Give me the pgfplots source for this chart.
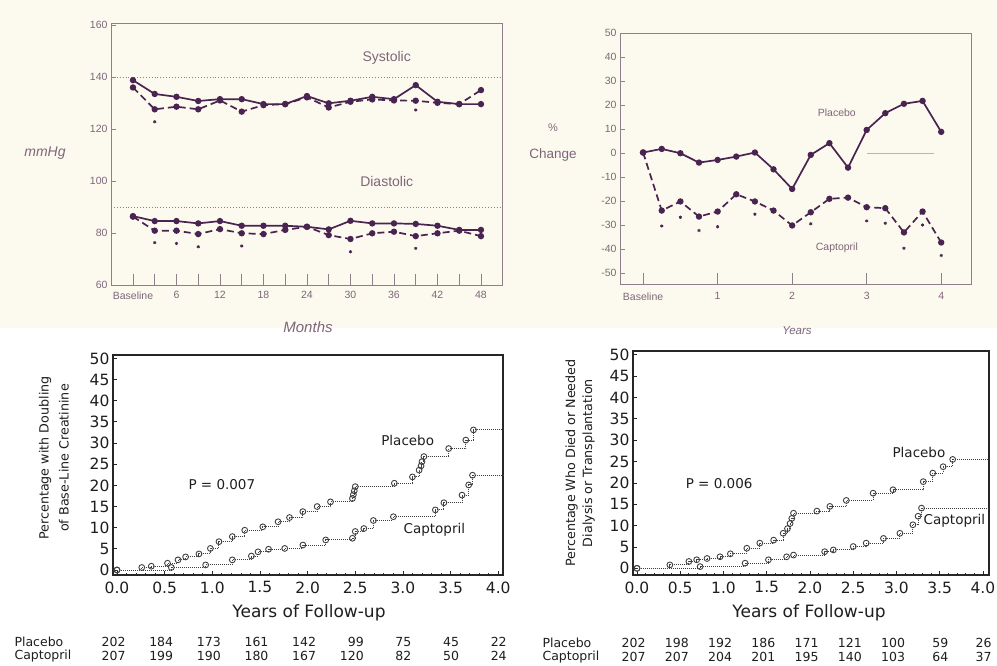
\documentclass[border=0pt]{standalone}
\usepackage{pgfplots}
\pgfplotsset{compat=1.18}
\usepackage{fontspec}
\setmainfont{DejaVu Sans}
\newfontfamily\topfont{Liberation Sans}
\definecolor{topline}{HTML}{4A2450}
\definecolor{toptext}{HTML}{7E6679}
\definecolor{topframe}{HTML}{8E7F8C}
\definecolor{cream}{HTML}{FCFAEF}
\definecolor{botline}{HTML}{404040}
\definecolor{bottext}{HTML}{1E1E1E}
\pgfplotsset{
  topax/.style={scale only axis, anchor=south west, clip=false,
    axis line style={draw=topframe, line width=0.9pt},
    tick style={draw=topframe, line width=0.8pt},
    xtick pos=left, ytick pos=left,
    xtick style={/pgfplots/major tick length=11pt},
    ytick style={/pgfplots/major tick length=5pt},
    tick label style={font=\topfont\fontsize{10.5}{12}\selectfont, text=toptext},
    /pgf/number format/assume math mode=true,
    /pgf/number format/1000 sep={}},
  topsolid/.style={topline, line width=1.7pt, mark=*, mark size=2.3pt, mark options={solid}},
  topdash/.style={topline, line width=1.7pt, dash pattern=on 7pt off 4pt, mark=*, mark size=2.3pt, mark options={solid}},
  topstar/.style={only marks, topline, mark=asterisk, mark size=1.6pt, line width=0.8pt},
  botax/.style={scale only axis, anchor=south west, clip=false,
    axis line style={draw=black!85, line width=1.1pt},
    tick style={draw=black!85, line width=0.8pt},
    xtick pos=left, ytick pos=left,
    major tick length=4pt, minor tick length=2pt,
    minor x tick num=4,
    tick label style={font=\fontsize{15.5}{18}\selectfont, text=bottext},
    xticklabel style={yshift=-3pt},
    xtick={0,0.5,...,4}, xticklabels={0.0,0.5,1.0,1.5,2.0,2.5,3.0,3.5,4.0},
    ytick={0,5,...,50},
    /pgf/number format/assume math mode=true},
  kmline/.style={botline, line width=1pt, densely dotted, const plot, mark=o, mark size=2.9pt, mark options={solid, line width=0.9pt}},
  kmtail/.style={botline, line width=1pt, densely dotted},
}
\begin{document}
\begin{tikzpicture}
\fill[white] (0pt,0pt) rectangle (997pt,-665pt);
\fill[cream] (0pt,0pt) rectangle (997pt,-328pt);

% ---------------- Top left: blood pressure ----------------
\begin{axis}[topax, at={(111pt,-285pt)}, width=391pt, height=262pt,
  xmin=-3.03, xmax=50.9, ymin=60, ymax=160.8,
  xtick={0,3,...,48}, xticklabels={Baseline,,6,,12,,18,,24,,30,,36,,42,,48},
  xticklabel style={yshift=-3pt},
  ytick={60,80,...,160}]
\addplot[topframe, line width=0.9pt, dotted] coordinates {(-3.03,140) (50.9,140)};
\addplot[topframe, line width=0.9pt, dotted] coordinates {(-3.03,90) (50.9,90)};
\addplot[topsolid] coordinates {(0,138.8)(3,133.5)(6,132.4)(9,130.8)(12,131.5)(15,131.5)(18,129.6)(21,129.6)(24,132.7)(27,129.9)(30,130.9)(33,132.4)(36,131.5)(39,136.9)(42,130.5)(45,129.6)(48,129.6)};
\addplot[topdash] coordinates {(0,136)(3,127.6)(6,128.6)(9,127.6)(12,131)(15,126.7)(18,129.2)(21,129.6)(24,132.2)(27,128.3)(30,130.5)(33,131.4)(36,131)(39,130.9)(42,130.1)(45,129.6)(48,135)};
\addplot[topsolid] coordinates {(0,86.5)(3,84.6)(6,84.6)(9,83.7)(12,84.6)(15,82.8)(18,82.8)(21,82.8)(24,82.4)(27,81.4)(30,84.7)(33,83.7)(36,83.7)(39,83.5)(42,82.8)(45,81.2)(48,81.2)};
\addplot[topdash] coordinates {(0,86.3)(3,80.9)(6,80.9)(9,79.6)(12,81.5)(15,79.9)(18,79.6)(21,81.2)(24,82.4)(27,79.2)(30,77.7)(33,79.9)(36,80.5)(39,78.8)(42,79.9)(45,80.9)(48,78.8)};
\addplot[topstar] coordinates {(3,122.8)(39,127.3)(3,76.3)(6,76)(9,74.7)(15,75)(30,72.8)(39,74.1)};
\node[font=\topfont\fontsize{14}{16}\selectfont, text=toptext] at (axis cs:35,147.3) {Systolic};
\node[font=\topfont\fontsize{14}{16}\selectfont, text=toptext] at (axis cs:35,100) {Diastolic};
\end{axis}
\node[font=\topfont\itshape\fontsize{14}{16}\selectfont, text=toptext] at (45pt,-153pt) {mmHg};
\node[font=\topfont\itshape\fontsize{15}{17}\selectfont, text=toptext] at (308pt,-327pt) {Months};

% ---------------- Top right: % change ----------------
\begin{axis}[topax, at={(620pt,-284pt)}, width=351pt, height=251pt,
  xmin=-0.31, xmax=4.40, ymin=-54.5, ymax=50.1,
  xtick={0,1,2,3,4}, xticklabels={Baseline,1,2,3,4},
  xticklabel style={yshift=-5pt},
  ytick={-50,-40,...,50}, yticklabels={-50,-40,-30,-20,-10,0,10,20,30,40,50}]
\addplot[topframe!60, line width=0.8pt] coordinates {(3.0,0) (3.9,0)};
\addplot[topsolid] coordinates {(0,0.3)(0.25,1.8)(0.5,0)(0.75,-3.9)(1,-2.8)(1.25,-1.4)(1.5,0.3)(1.75,-6.7)(2,-14.9)(2.25,-0.7)(2.5,4.2)(2.75,-6)(3,9.7)(3.25,16.7)(3.5,20.6)(3.75,21.8)(4,8.9)};
\addplot[topdash] coordinates {(0,0.3)(0.25,-23.9)(0.5,-20.1)(0.75,-26.4)(1,-24.3)(1.25,-17.1)(1.5,-20.1)(1.75,-23.9)(2,-30.1)(2.25,-24.6)(2.5,-19)(2.75,-18.5)(3,-22.5)(3.25,-22.9)(3.5,-33)(3.75,-24.3)(4,-37.2)};
\addplot[topstar] coordinates {(0.25,-30.3)(0.5,-26.7)(0.75,-32.2)(1.0,-30.6)(1.5,-25.4)(2.25,-29.4)(3.0,-28.2)(3.25,-29.2)(3.5,-39.6)(3.75,-29.9)(4.0,-42.6)};
\node[font=\topfont\fontsize{10.5}{12}\selectfont, text=toptext] at (axis cs:2.6,16.7) {Placebo};
\node[font=\topfont\fontsize{10.5}{12}\selectfont, text=toptext] at (axis cs:2.6,-39.6) {Captopril};
\end{axis}
\node[font=\topfont\fontsize{11}{13}\selectfont, text=toptext] at (553pt,-128pt) {\%};
\node[font=\topfont\fontsize{13.5}{15}\selectfont, text=toptext] at (553pt,-155pt) {Change};
\node[font=\topfont\itshape\fontsize{11.5}{13}\selectfont, text=toptext] at (797pt,-331pt) {Years};

% ---------------- Bottom left: doubling of creatinine ----------------
\begin{axis}[botax, at={(113pt,-575pt)}, width=390pt, height=220pt,
  xmin=-0.042, xmax=4.05, ymin=-1.18, ymax=50.8]
\addplot[kmline] coordinates {(0,0)(0.26,0.6)(0.36,0.9)(0.53,1.6)(0.64,2.4)(0.72,3.1)(0.86,3.8)(0.98,5.1)(1.07,6.7)(1.21,7.9)(1.34,9.4)(1.53,10.2)(1.69,11.4)(1.81,12.4)(1.95,13.8)(2.1,15.0)(2.24,16.1)(2.47,16.9)(2.48,17.8)(2.49,18.7)(2.5,19.7)(2.91,20.5)(3.1,22)(3.17,23.6)(3.19,24.6)(3.2,25.6)(3.22,26.8)(3.48,28.7)(3.66,30.7)(3.74,33.1)};
\addplot[kmtail] coordinates {(3.74,33.1)(4.05,33.1)};
\addplot[kmline] coordinates {(0,0)(0.57,0.6)(0.93,1.2)(1.21,2.4)(1.41,3.3)(1.48,4.3)(1.59,4.9)(1.76,5.1)(1.95,5.9)(2.19,7.1)(2.47,7.5)(2.5,9.1)(2.59,9.8)(2.69,11.7)(2.9,12.6)(3.34,14.2)(3.43,15.9)(3.62,17.7)(3.69,20.1)(3.73,22.4)};
\addplot[kmtail] coordinates {(3.73,22.4)(4.05,22.4)};
\node[font=\fontsize{13.5}{16}\selectfont, text=bottext] at (axis cs:1.1,20.1) {P = 0.007};
\node[font=\fontsize{13.5}{16}\selectfont, text=bottext] at (axis cs:3.05,30.6) {Placebo};
\node[font=\fontsize{13.5}{16}\selectfont, text=bottext] at (axis cs:3.33,9.4) {Captopril};
\end{axis}
\node[rotate=90, align=center, font=\fontsize{12.7}{20}\selectfont, text=bottext] at (54pt,-458pt) {Percentage with Doubling\\of Base-Line Creatinine};
\node[font=\fontsize{17}{20}\selectfont, text=bottext] at (309pt,-613pt) {Years of Follow-up};

% ---------------- Bottom right: death / dialysis ----------------
\begin{axis}[botax, at={(633pt,-575pt)}, width=356pt, height=224pt,
  xmin=-0.046, xmax=4.07, ymin=-1.57, ymax=50.9]
\addplot[kmline] coordinates {(0,0)(0.38,0.8)(0.6,1.6)(0.69,2.0)(0.81,2.3)(0.96,2.7)(1.08,3.4)(1.27,4.7)(1.42,5.9)(1.58,6.6)(1.69,8.2)(1.74,9.3)(1.77,10.5)(1.79,11.7)(1.81,12.9)(2.08,13.4)(2.23,14.5)(2.42,15.9)(2.73,17.6)(2.96,18.4)(3.31,20.3)(3.42,22.3)(3.54,23.8)(3.65,25.5)};
\addplot[kmtail] coordinates {(3.65,25.5)(4.07,25.5)};
\addplot[kmline] coordinates {(0,0)(0.73,0.4)(1.25,1.2)(1.52,2.0)(1.73,2.7)(1.81,3.1)(2.17,3.9)(2.27,4.3)(2.5,5.1)(2.65,5.9)(2.85,7.0)(3.04,8.2)(3.19,10.2)(3.25,12.2)(3.29,14.1)};
\addplot[kmtail] coordinates {(3.29,14.1)(4.07,14.1)};
\node[font=\fontsize{13.5}{16}\selectfont, text=bottext] at (axis cs:0.95,19.8) {P = 0.006};
\node[font=\fontsize{13.5}{16}\selectfont, text=bottext] at (axis cs:3.26,27.1) {Placebo};
\node[font=\fontsize{13.5}{16}\selectfont, text=bottext] at (axis cs:3.67,11.2) {Captopril};
\end{axis}
\node[rotate=90, align=center, font=\fontsize{12.7}{17}\selectfont, text=bottext] at (580pt,-463pt) {Percentage Who Died or Needed\\Dialysis or Transplantation};
\node[font=\fontsize{17}{20}\selectfont, text=bottext] at (809pt,-613pt) {Years of Follow-up};

% ---------------- Numbers at risk ----------------
\node[anchor=west, font=\fontsize{12.5}{14}\selectfont, text=bottext] at (11pt,-642pt) {Placebo};
\node[anchor=west, font=\fontsize{12.5}{14}\selectfont, text=bottext] at (11pt,-656pt) {Captopril};
\foreach \v [count=\i from 0] in {202,184,173,161,142,99,75,45,22}
  \node[anchor=east, font=\fontsize{12.5}{14}\selectfont, text=bottext] at ({(129+47.65*\i)*1pt},-642pt) {\v};
\foreach \v [count=\i from 0] in {207,199,190,180,167,120,82,50,24}
  \node[anchor=east, font=\fontsize{12.5}{14}\selectfont, text=bottext] at ({(129+47.65*\i)*1pt},-656pt) {\v};
\node[anchor=west, font=\fontsize{12.5}{14}\selectfont, text=bottext] at (539pt,-643pt) {Placebo};
\node[anchor=west, font=\fontsize{12.5}{14}\selectfont, text=bottext] at (539pt,-657pt) {Captopril};
\foreach \v [count=\i from 0] in {202,198,192,186,171,121,100,59,26}
  \node[anchor=east, font=\fontsize{12.5}{14}\selectfont, text=bottext] at ({(649+43.25*\i)*1pt},-643pt) {\v};
\foreach \v [count=\i from 0] in {207,207,204,201,195,140,103,64,37}
  \node[anchor=east, font=\fontsize{12.5}{14}\selectfont, text=bottext] at ({(649+43.25*\i)*1pt},-657pt) {\v};

\pgfresetboundingbox
\path (0pt,0pt) rectangle (997pt,-665pt);
\end{tikzpicture}
\end{document}
